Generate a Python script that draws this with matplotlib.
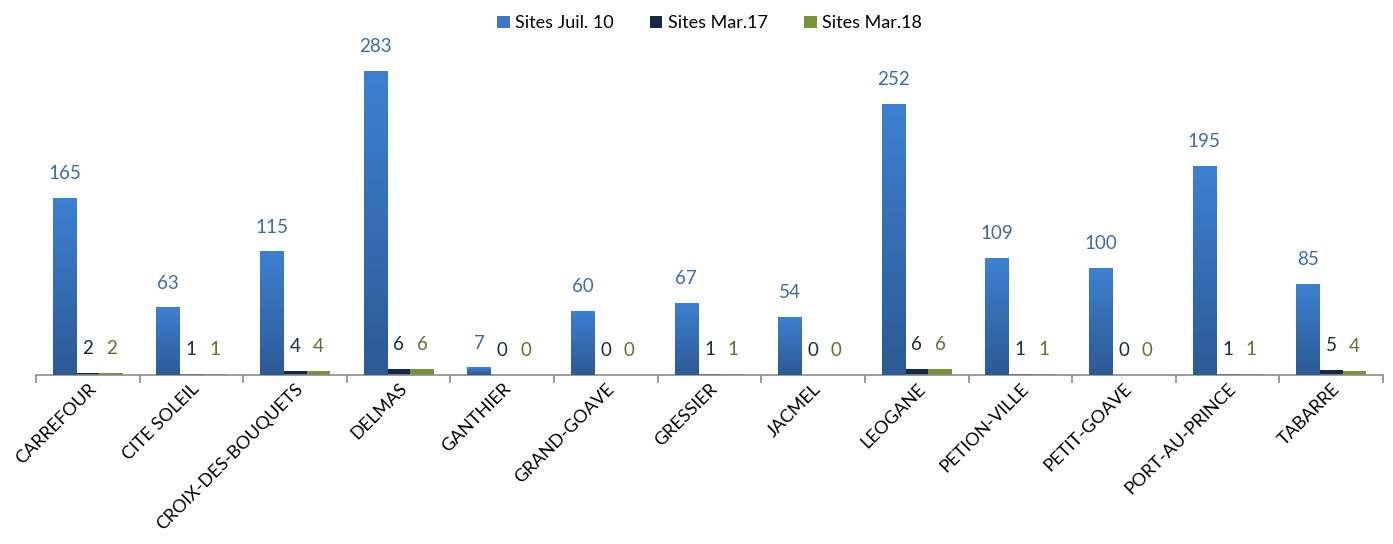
import numpy as np
import matplotlib
matplotlib.use("Agg")
from matplotlib import pyplot as plt
from matplotlib.colors import LinearSegmentedColormap

plt.rcParams['font.family'] = ['Lato', 'DejaVu Sans']

communes = ["CARREFOUR", "CITE SOLEIL", "CROIX-DES-BOUQUETS", "DELMAS", "GANTHIER",
            "GRAND-GOAVE", "GRESSIER", "JACMEL", "LEOGANE", "PETION-VILLE",
            "PETIT-GOAVE", "PORT-AU-PRINCE", "TABARRE"]
sites_juil10 = [165, 63, 115, 283, 7, 60, 67, 54, 252, 109, 100, 195, 85]
sites_mar17 = [2, 1, 4, 6, 0, 0, 1, 0, 6, 1, 0, 1, 5]
sites_mar18 = [2, 1, 4, 6, 0, 0, 1, 0, 6, 1, 0, 1, 4]
series_names = ["Sites Juil. 10", "Sites Mar.17", "Sites Mar.18"]

fig = plt.figure(figsize=(13.93, 5.44), dpi=100)
ax = fig.add_axes([36 / 1393, (544 - 375) / 544, (1383 - 36) / 1393, (375 - 42) / 544])

x = np.arange(len(communes))
w = 0.225
col_blue = "#3a78c6"
col_navy = "#14294a"
col_green = "#77933c"

b1 = ax.bar(x - w, sites_juil10, w, color=col_blue, label=series_names[0], zorder=2)
b2 = ax.bar(x, sites_mar17, w, color=col_navy, label=series_names[1], zorder=2)
b3 = ax.bar(x + w, sites_mar18, w, color=col_green, label=series_names[2], zorder=2)

# gradient sur les barres bleues
cmap = LinearSegmentedColormap.from_list("g", ["#2c5a94", "#3d80d2"])
grad = np.linspace(0, 1, 256).reshape(-1, 1)
for rect in b1:
    x0 = rect.get_x()
    h = rect.get_height()
    im = ax.imshow(grad, cmap=cmap, origin="lower", aspect="auto",
                   extent=[x0, x0 + w, 0, h], zorder=3)
    im.set_clip_path(rect)

ax.set_xlim(-0.5, len(communes) - 0.5)
ax.set_ylim(0, 310)

for bars, vals, c in [(b1, sites_juil10, "#3f6aa6"), (b2, sites_mar17, "#1a2a45"),
                      (b3, sites_mar18, "#5d7330")]:
    for rect, v in zip(bars, vals):
        ax.annotate(str(v), (rect.get_x() + rect.get_width() / 2, v),
                    xytext=(0, 17.5), textcoords="offset points", ha="center", va="center",
                    fontsize=13.5, color=c)

for s in ["top", "right", "left"]:
    ax.spines[s].set_visible(False)
ax.spines["bottom"].set_color("#8c8c8c")
ax.spines["bottom"].set_linewidth(1.2)
ax.set_yticks([])

ax.set_xticks(np.arange(len(communes) + 1) - 0.5, minor=True)
ax.tick_params(axis="x", which="minor", length=6, color="#8c8c8c", width=1.2)
ax.tick_params(axis="x", which="major", length=0, pad=4)
ax.set_xticks(x)
ax.set_xticklabels(communes, rotation=45, ha="right", rotation_mode="anchor",
                   fontsize=13, color="black")

ax.legend(loc="lower center", bbox_to_anchor=(0.5, 1.0), ncol=3, frameon=False,
          fontsize=13, handlelength=0.7, handleheight=0.7, handletextpad=0.3,
          columnspacing=2.0, borderaxespad=0.2)

fig.savefig("out.png", dpi=100)
